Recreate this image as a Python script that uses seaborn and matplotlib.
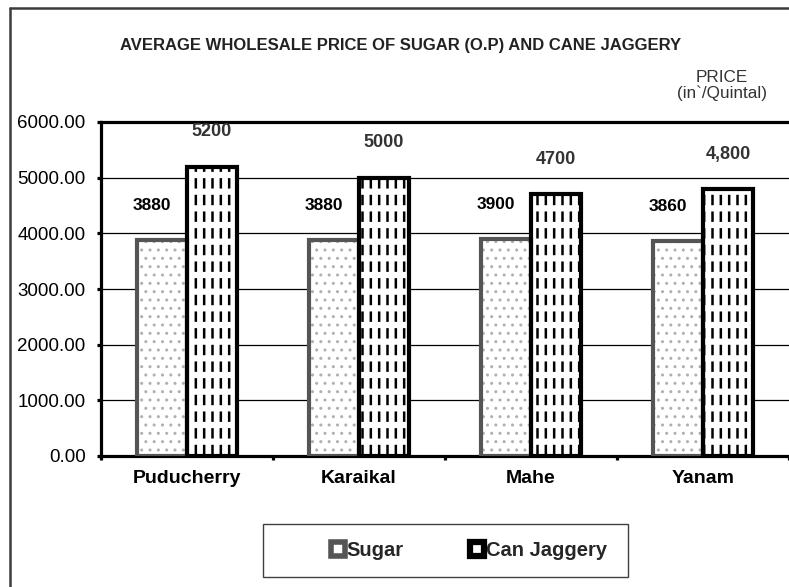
import pandas as pd
import matplotlib.pyplot as plt
import seaborn as sns
from matplotlib.patches import Rectangle
from matplotlib.lines import Line2D
from matplotlib.ticker import StrMethodFormatter, FixedLocator

regions = ["Puducherry", "Karaikal", "Mahe", "Yanam"]
sugar = [3880, 3880, 3900, 3860]
jaggery = [5200, 5000, 4700, 4800]
sugar_labels = ["3880", "3880", "3900", "3860"]
jaggery_labels = ["5200", "5000", "4700", "4,800"]
items = ["Sugar", "Can Jaggery"]

df = pd.DataFrame({
    "region": regions * 2,
    "price": sugar + jaggery,
    "item": [items[0]] * 4 + [items[1]] * 4,
})

sns.set_style("white")
plt.rcParams["font.family"] = ["Liberation Sans", "DejaVu Sans"]

fig = plt.figure(figsize=(7.89, 5.87), dpi=100)
ax = fig.add_axes([101 / 789, (587 - 456) / 587, 688 / 789, (456 - 122) / 587])

sns.barplot(data=df, x="region", y="price", hue="item", width=0.58, gap=0,
            palette=["white", "white"], legend=False, ax=ax)

bars = list(ax.patches)
n = len(regions)
for i, p in enumerate(bars):
    x, w, h = p.get_x(), p.get_width(), p.get_height()
    p.set_facecolor("white")
    p.set_linewidth(0)
    if i < n:
        # sugar: grey dots, grey outline
        p.set_edgecolor("#b0b0b0")
        p.set_hatch("..")
        outline = Rectangle((x, 0), w, h, fill=False, edgecolor="#555555", lw=3, zorder=4)
        ax.add_patch(outline)
        ax.annotate(sugar_labels[i], xy=(x + w / 2, h), xytext=(-7, 25),
                    textcoords="offset points", ha="center", va="center",
                    fontsize=12.5, fontweight="bold", color="black")
    else:
        # jaggery: dashed vertical hatch, black outline
        p.set_edgecolor("black")
        p.set_hatch("||")
        if hasattr(p, "set_hatch_linewidth"):
            p.set_hatch_linewidth(1.8)
        cut = Rectangle((x, 0), w, h, fill=False, edgecolor="white", lw=0, hatch="-", zorder=3)
        if hasattr(cut, "set_hatch_linewidth"):
            cut.set_hatch_linewidth(4.5)
        ax.add_patch(cut)
        outline = Rectangle((x, 0), w, h, fill=False, edgecolor="black", lw=3, zorder=4)
        ax.add_patch(outline)
        ax.annotate(jaggery_labels[i - n], xy=(x + w / 2, h), xytext=(0, 25),
                    textcoords="offset points", ha="center", va="center",
                    fontsize=13, fontweight="bold", color="#333333")

ax.set_ylim(0, 6000)
ax.set_xlim(-0.5, n - 0.5)
ax.set_yticks(range(0, 6001, 1000))
ax.yaxis.set_major_formatter(StrMethodFormatter("{x:.2f}"))
ax.yaxis.grid(True, color="black", lw=0.9)
ax.set_axisbelow(True)
ax.set_xlabel("")
ax.set_ylabel("")

for s in ["left", "bottom", "top"]:
    ax.spines[s].set_visible(True)
    ax.spines[s].set_color("black")
    ax.spines[s].set_linewidth(2.3)
ax.spines["right"].set_visible(False)

ax.tick_params(axis="y", left=True, length=3, width=2.3, pad=8, labelsize=13.5,
               color="black", labelcolor="black")
ax.tick_params(axis="x", which="major", length=0, pad=10, labelsize=14, labelcolor="black")
ax.xaxis.set_minor_locator(FixedLocator([i - 0.5 for i in range(n + 1)]))
ax.tick_params(axis="x", which="minor", bottom=True, length=3, width=2.3, color="black")
for t in ax.get_xticklabels():
    t.set_fontweight("bold")

fig.text(0.508, 0.923, "AVERAGE WHOLESALE PRICE OF SUGAR (O.P) AND CANE JAGGERY",
         ha="center", va="center", fontsize=12, fontweight="bold", color="#222222")
fig.text(0.915, 0.855, "PRICE\n(in`/Quintal)", ha="center", va="center",
         fontsize=12.3, color="#333333", linespacing=1.05)

# outer chart frame (left and top edges visible)
fig.add_artist(Line2D([9.5 / 789, 9.5 / 789], [0, 1 - 7.5 / 587], color="#3c3c3c", lw=1.8))
fig.add_artist(Line2D([9.5 / 789, 1], [1 - 7.5 / 587, 1 - 7.5 / 587], color="#3c3c3c", lw=1.8))

# legend box
fig.add_artist(Rectangle((263 / 789, 1 - 577 / 587), 365 / 789, 53 / 587,
                         transform=fig.transFigure, fill=False, edgecolor="#404040", lw=1))
handles = [
    Line2D([], [], ls="", marker="s", markersize=10, markerfacecolor="white",
           markeredgecolor="#555555", markeredgewidth=4),
    Line2D([], [], ls="", marker="s", markersize=10, markerfacecolor="white",
           markeredgecolor="black", markeredgewidth=4.5),
]
fig.legend(handles, items, ncol=2, loc="center", bbox_to_anchor=(469 / 789, 1 - 551 / 587),
           frameon=False, handlelength=0.7, handletextpad=0.1, columnspacing=3.3,
           prop={"weight": "bold", "size": 14.5})

fig.savefig("out.png", dpi=100)
